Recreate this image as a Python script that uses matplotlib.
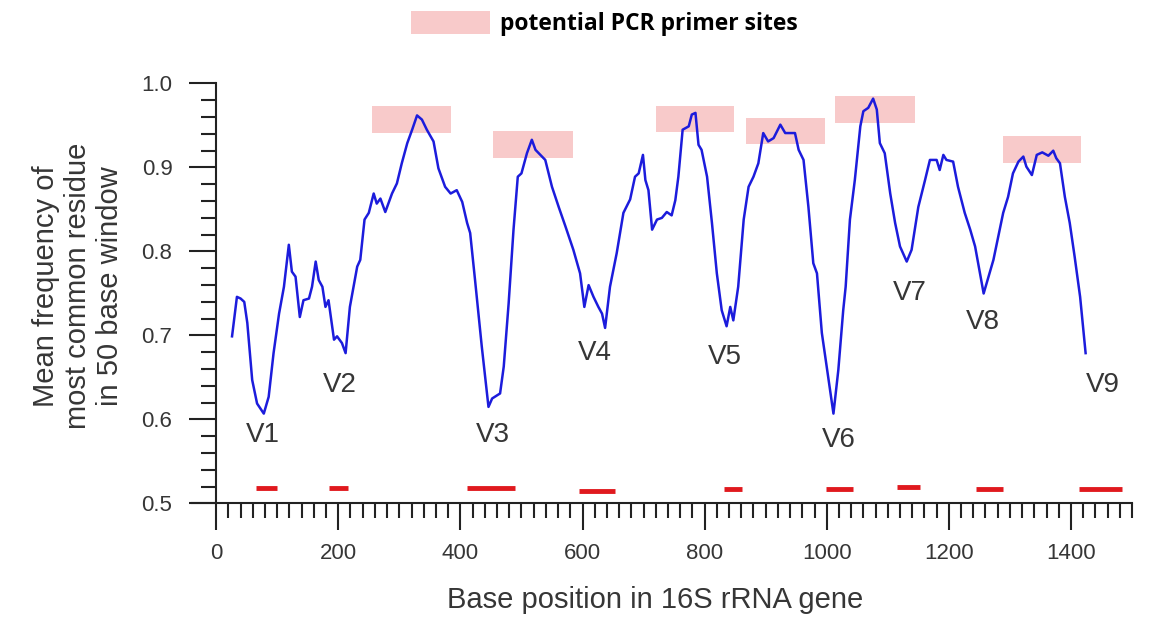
import numpy as np
import matplotlib.pyplot as plt
from matplotlib.patches import Patch
from matplotlib.ticker import FixedLocator, FormatStrFormatter

plt.rcParams['font.family'] = ['Liberation Sans', 'DejaVu Sans']

# sliding-window conservation along the 16S gene
pos = [26, 34, 40, 46, 51, 59, 67, 78, 86, 94, 103, 111, 119, 124, 130, 137,
       143, 152, 157, 163, 168, 174, 179, 184, 193, 198, 206, 212, 219, 231,
       236, 243, 250, 258, 263, 269, 277, 288, 296, 304, 313, 321, 329, 337,
       345, 356, 364, 375, 384, 394, 403, 411, 416, 424, 435, 446, 452, 465,
       471, 479, 487, 494, 500, 509, 517, 523, 531, 539, 550, 561, 572, 585,
       596, 603, 610, 618, 626, 632, 637, 645, 656, 667, 678, 686, 692, 699,
       703, 708, 714, 722, 730, 738, 746, 752, 757, 764, 774, 779, 785, 790,
       795, 804, 812, 820, 828, 836, 842, 847, 855, 864, 872, 880, 888, 896,
       904, 913, 924, 932, 940, 948, 954, 962, 970, 978, 984, 992, 1003, 1011,
       1019, 1027, 1031, 1038, 1046, 1055, 1060, 1068, 1076, 1082, 1087, 1095,
       1104, 1112, 1120, 1131, 1139, 1150, 1161, 1169, 1180, 1185, 1191, 1196,
       1207, 1215, 1226, 1235, 1243, 1251, 1257, 1265, 1273, 1281, 1289, 1297,
       1305, 1314, 1322, 1327, 1336, 1344, 1353, 1363, 1371, 1376, 1382, 1390,
       1398, 1406, 1415, 1424]
freq = [0.699, 0.746, 0.744, 0.740, 0.715, 0.647, 0.619, 0.607, 0.627, 0.679,
        0.726, 0.758, 0.808, 0.776, 0.770, 0.722, 0.742, 0.744, 0.758, 0.788,
        0.766, 0.758, 0.734, 0.742, 0.695, 0.699, 0.691, 0.679, 0.734, 0.782,
        0.790, 0.838, 0.846, 0.869, 0.857, 0.863, 0.847, 0.869, 0.881, 0.905,
        0.929, 0.945, 0.962, 0.957, 0.945, 0.931, 0.899, 0.877, 0.869, 0.873,
        0.859, 0.834, 0.822, 0.766, 0.687, 0.615, 0.625, 0.631, 0.663, 0.738,
        0.826, 0.889, 0.893, 0.917, 0.933, 0.921, 0.915, 0.909, 0.877, 0.853,
        0.830, 0.802, 0.774, 0.734, 0.760, 0.746, 0.734, 0.726, 0.709, 0.758,
        0.798, 0.846, 0.862, 0.889, 0.893, 0.915, 0.885, 0.873, 0.826, 0.838,
        0.840, 0.847, 0.843, 0.861, 0.889, 0.945, 0.949, 0.963, 0.965, 0.927,
        0.921, 0.889, 0.834, 0.774, 0.730, 0.711, 0.734, 0.718, 0.758, 0.838,
        0.877, 0.889, 0.905, 0.941, 0.931, 0.935, 0.951, 0.941, 0.941, 0.941,
        0.921, 0.909, 0.853, 0.786, 0.774, 0.703, 0.647, 0.607, 0.659, 0.730,
        0.758, 0.838, 0.885, 0.949, 0.967, 0.971, 0.982, 0.969, 0.929, 0.917,
        0.869, 0.834, 0.806, 0.788, 0.802, 0.853, 0.885, 0.909, 0.909, 0.897,
        0.915, 0.909, 0.907, 0.877, 0.846, 0.826, 0.806, 0.774, 0.750, 0.770,
        0.790, 0.818, 0.846, 0.865, 0.893, 0.907, 0.913, 0.901, 0.891, 0.915,
        0.918, 0.914, 0.920, 0.911, 0.905, 0.865, 0.834, 0.794, 0.746, 0.679]

# potential PCR primer sites (pink boxes)
site_start = [255, 454, 720, 867, 1013, 1289]
site_end = [384, 584, 848, 997, 1145, 1417]
site_low = [0.941, 0.911, 0.942, 0.928, 0.953, 0.905]
site_high = [0.973, 0.943, 0.973, 0.959, 0.985, 0.937]

# red bars near the axis
primer_start = [66, 184, 411, 595, 831, 998, 1115, 1244, 1413]
primer_end = [100, 216, 489, 654, 861, 1043, 1153, 1289, 1484]
primer_y = [0.518, 0.518, 0.518, 0.515, 0.517, 0.517, 0.520, 0.517, 0.517]

regions = ['V1', 'V2', 'V3', 'V4', 'V5', 'V6', 'V7', 'V8', 'V9']
region_x = [77, 202, 453, 621, 833, 1019, 1136, 1255, 1452]
region_y = [0.5815, 0.641, 0.5815, 0.679, 0.674, 0.5756, 0.750, 0.7165, 0.641]

pink = '#f8caca'
grey = '#363636'

fig = plt.figure(figsize=(11.53, 6.18), dpi=100)
ax = fig.add_axes([0.1663, 0.1853, 0.8155, 0.6796])

ax.bar(site_start, np.subtract(site_high, site_low),
       width=np.subtract(site_end, site_start), bottom=site_low,
       align='edge', color=pink, linewidth=0, zorder=1)
ax.hlines(primer_y, primer_start, primer_end, colors='#e0191e', lw=3.5, zorder=2)
ax.plot(pos, freq, color='#1c1cdc', lw=1.8, zorder=3)

for lab, x, y in zip(regions, region_x, region_y):
    ax.text(x, y, lab, ha='center', va='center', fontsize=20, color=grey)

ax.set_xlim(-40, 1500)
ax.set_ylim(0.5, 1.0)
ax.spines[['top', 'right']].set_visible(False)
ax.spines['left'].set_position(('data', 0))
for s in ['left', 'bottom']:
    ax.spines[s].set_linewidth(1.5)
    ax.spines[s].set_color('#222222')

ax.xaxis.set_major_locator(FixedLocator(np.arange(0, 1401, 200)))
ax.xaxis.set_minor_locator(FixedLocator(np.arange(0, 1501, 20)))
ax.yaxis.set_major_locator(FixedLocator(np.arange(0.5, 1.01, 0.1)))
ax.yaxis.set_minor_locator(FixedLocator(np.arange(0.5, 1.001, 0.02)))
ax.yaxis.set_major_formatter(FormatStrFormatter('%.1f'))
ax.tick_params(which='major', direction='out', length=19.5, width=1.5,
               color='#222222', labelsize=16, labelcolor=grey)
ax.tick_params(which='minor', direction='out', length=10.5, width=1.5,
               color='#222222')
ax.tick_params(axis='x', which='major', pad=9)
ax.tick_params(axis='y', which='major', pad=12)

ax.set_xlabel('Base position in 16S rRNA gene', fontsize=21, color=grey,
              va='center')
ax.xaxis.set_label_coords(0.4927, -0.2298)
ax.set_ylabel('Mean frequency of\nmost common residue\nin 50 base window',
              fontsize=21, color=grey, va='center', linespacing=1.2)
ax.yaxis.set_label_coords(-0.121, 0.518)

fs_px = 16.5 * 100 / 72
ax.legend([Patch(facecolor=pink, edgecolor='none')],
          ['potential PCR primer sites'],
          loc='center left', bbox_to_anchor=(411 / 1153, 1 - 23.3 / 618),
          bbox_transform=fig.transFigure, frameon=False, borderpad=0,
          borderaxespad=0, handlelength=79 / fs_px, handleheight=27 / fs_px,
          handletextpad=10 / fs_px,
          prop={'family': 'Open Sans', 'weight': 'bold', 'size': 16.5})

fig.savefig('out.png', dpi=100)
